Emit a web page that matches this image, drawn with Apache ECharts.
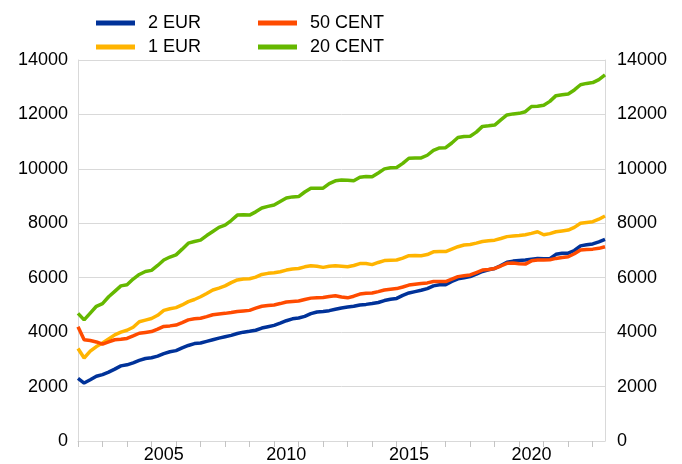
<!DOCTYPE html>
<html>
<head>
<meta charset="utf-8">
<script src="https://cdn.jsdelivr.net/npm/echarts@6/dist/echarts.min.js"></script>
<style>
	html, body { margin: 0; padding: 0; background: #fff; }
	#main { width: 682px; height: 464px; }
</style>
</head>
<body>
<div id="main"></div>
<script type="text/javascript">
	// quarterly values (Jan, Apr, Jul, Oct), from Jan 2002 to Jul 2023
	var startYear = 2002;
	var eur2 = [
		2300, 2130, 2250, 2380,  2440, 2530, 2640, 2760,  2800, 2870, 2960, 3030,
		3060, 3120, 3210, 3280,  3320, 3420, 3510, 3580,  3600, 3660, 3720, 3780,
		3830, 3880, 3950, 4000,  4030, 4070, 4150, 4200,  4250, 4330, 4420, 4490,
		4520, 4580, 4680, 4740,  4760, 4790, 4840, 4890,  4920, 4950, 5000, 5020,
		5050, 5090, 5160, 5210,  5240, 5350, 5440, 5490,  5540, 5600, 5700, 5740,
		5740, 5860, 5960, 6000,  6040, 6130, 6230, 6290,  6340, 6450, 6570, 6610,
		6630, 6650, 6680, 6710,  6700, 6700, 6860, 6900,  6900, 7000, 7170, 7210,
		7240, 7320, 7410
	];
	var eur1 = [
		3400, 3050, 3300, 3470,  3600, 3750, 3900, 4000,  4070, 4180, 4380, 4440,
		4500, 4620, 4800, 4860,  4900, 5000, 5120, 5200,  5300, 5420, 5550, 5620,
		5700, 5820, 5920, 5950,  5960, 6020, 6120, 6160,  6180, 6220, 6280, 6320,
		6340, 6400, 6440, 6420,  6380, 6420, 6440, 6420,  6400, 6450, 6520, 6520,
		6480, 6560, 6630, 6640,  6650, 6720, 6810, 6820,  6810, 6850, 6950, 6960,
		6960, 7050, 7140, 7200,  7220, 7270, 7330, 7360,  7380, 7440, 7510, 7530,
		7550, 7580, 7630, 7690,  7580, 7620, 7690, 7720,  7750, 7850, 8000, 8030,
		8060, 8150, 8270
	];
	var cent50 = [
		4200, 3720, 3690, 3640,  3560, 3640, 3720, 3740,  3770, 3860, 3960, 3990,
		4020, 4110, 4210, 4230,  4260, 4350, 4450, 4490,  4510, 4570, 4640, 4670,
		4690, 4720, 4760, 4780,  4800, 4880, 4950, 4980,  5000, 5050, 5110, 5130,
		5145, 5200, 5250, 5260,  5270, 5310, 5340, 5290,  5260, 5320, 5400, 5430,
		5440, 5490, 5550, 5580,  5600, 5660, 5730, 5760,  5790, 5810, 5860, 5860,
		5860, 5950, 6040, 6070,  6100, 6190, 6280, 6300,  6340, 6430, 6530, 6540,
		6510, 6500, 6620, 6650,  6650, 6660, 6710, 6740,  6770, 6880, 7020, 7040,
		7050, 7080, 7140
	];
	var cent20 = [
		4690, 4450, 4700, 4950,  5050, 5300, 5500, 5700,  5740, 5950, 6120, 6230,
		6270, 6450, 6650, 6760,  6840, 7050, 7270, 7330,  7380, 7550, 7700, 7850,
		7930, 8100, 8300, 8310,  8300, 8420, 8560, 8620,  8670, 8800, 8930, 8970,
		8980, 9150, 9290, 9290,  9290, 9460, 9560, 9590,  9580, 9560, 9690, 9720,
		9710, 9850, 10000, 10040,  10050, 10200, 10390, 10400,  10400, 10500, 10680, 10770,
		10780, 10950, 11150, 11190,  11200, 11350, 11560, 11580,  11610, 11800, 11980, 12020,
		12040, 12100, 12290, 12300,  12340, 12480, 12690, 12720,  12750, 12900, 13090, 13140,
		13170, 13280, 13450
	];
	var seriesNames = ['2 EUR', '1 EUR', '50 CENT', '20 CENT'];
	var seriesColors = ['#003299', '#FFB400', '#FF4B00', '#65B800'];
	var yearTicks = [];
	for (var y = 2002; y <= 2023; y++) yearTicks.push(y);
	var yearLabels = [2005.5, 2010.5, 2015.5, 2020.5];

	function toPairs(arr) {
		return arr.map(function (v, i) { return [startYear + i / 4, v]; });
	}

	var font = 'Liberation Sans, Arial, sans-serif';
	var grey = '#d9d9d9';
	var chart = echarts.init(document.getElementById('main'));
	var data = [eur2, eur1, cent50, cent20];

	chart.setOption({
		animation: false,
		textStyle: { fontFamily: font, color: '#000' },
		legend: [{
			left: 91, top: 9, orient: 'vertical', itemGap: 6,
			icon: 'rect', itemWidth: 39, itemHeight: 5,
			textStyle: { fontSize: 18, color: '#000', padding: [0, 0, 0, 8] },
			data: ['2 EUR', '1 EUR']
		}, {
			left: 253, top: 9, orient: 'vertical', itemGap: 6,
			icon: 'rect', itemWidth: 39, itemHeight: 5,
			textStyle: { fontSize: 18, color: '#000', padding: [0, 0, 0, 8] },
			data: ['50 CENT', '20 CENT']
		}],
		grid: { left: 78, right: 77, top: 60, bottom: 23 },
		xAxis: {
			type: 'value', min: 2002, max: 2023.5,
			axisLine: { show: true, lineStyle: { color: grey } },
			axisTick: { show: true, length: 6, customValues: yearTicks, lineStyle: { color: '#c4c4c4' } },
			axisLabel: {
				customValues: yearLabels, fontSize: 18, color: '#000', margin: 5,
				formatter: function (v) { return String(Math.floor(v)); }
			},
			splitLine: { show: false }
		},
		yAxis: [{
			type: 'value', min: 0, max: 14000, interval: 2000, position: 'left',
			axisLine: { show: true, lineStyle: { color: grey } },
			axisTick: { show: false },
			axisLabel: { fontSize: 18, color: '#000', margin: 10, formatter: function (v) { return String(v); } },
			splitLine: { lineStyle: { color: grey } }
		}, {
			type: 'value', min: 0, max: 14000, interval: 2000, position: 'right',
			axisLine: { show: true, lineStyle: { color: grey } },
			axisTick: { show: false },
			axisLabel: { fontSize: 18, color: '#000', margin: 12, formatter: function (v) { return String(v); } },
			splitLine: { show: false }
		}],
		series: seriesNames.map(function (name, i) {
			return {
				name: name, type: 'line', showSymbol: false, symbol: 'none',
				color: seriesColors[i],
				lineStyle: { width: 3.5, color: seriesColors[i] },
				data: toPairs(data[i])
			};
		})
	});
</script>
</body>
</html>
